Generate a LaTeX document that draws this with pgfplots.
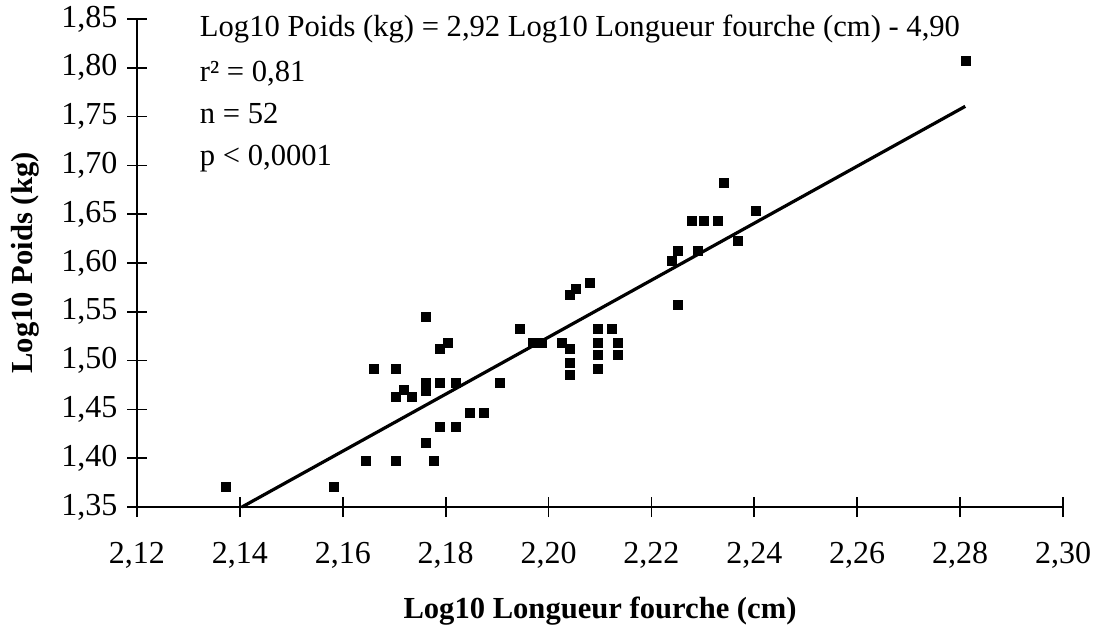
\documentclass[border=0pt]{standalone}
\usepackage{fontspec}
\setmainfont{Liberation Serif}
\usepackage{pgfplots}
\pgfplotsset{compat=1.18}
\usepackage{pgfplotstable}

% log10 fork length (cm) vs log10 weight (kg)
\pgfplotstableread{
x y
2.1373 1.3708
2.1583 1.3708
2.1645 1.3974
2.1703 1.3974
2.1661 1.4921
2.1703 1.4921
2.1719 1.4699
2.1703 1.4630
2.1734 1.4630
2.1762 1.5450
2.1762 1.4774
2.1762 1.4692
2.1788 1.4774
2.1820 1.4774
2.1906 1.4774
2.1847 1.4466
2.1874 1.4466
2.1789 1.4323
2.1819 1.4323
2.1762 1.4159
2.1776 1.3974
2.1788 1.5126
2.1804 1.5187
2.1944 1.5330
2.1970 1.5187
2.1986 1.5187
2.2026 1.5187
2.2042 1.5126
2.2042 1.4978
2.2042 1.4856
2.2042 1.5680
2.2053 1.5740
2.2080 1.5798
2.2096 1.5330
2.2096 1.5187
2.2096 1.5187
2.2096 1.5057
2.2096 1.4917
2.2123 1.5330
2.2135 1.5187
2.2135 1.5057
2.2251 1.5577
2.2239 1.6023
2.2251 1.6126
2.2289 1.6126
2.2367 1.6229
2.2279 1.6433
2.2301 1.6433
2.2329 1.6433
2.2403 1.6536
2.2341 1.6823
2.2810 1.8070
}\fishdata

\newcommand{\chartfont}{\fontsize{30.6}{36}\selectfont}
\newcommand{\tickfont}{\fontsize{32}{38}\selectfont}

\begin{document}
\begin{tikzpicture}
\path[use as bounding box] (0,0) rectangle (1096pt,633pt);
\begin{axis}[
  at={(137pt,126pt)}, anchor=south west,
  width=926pt, height=488pt, scale only axis,
  xmin=2.12, xmax=2.30, ymin=1.35, ymax=1.85,
  xtick={2.12,2.14,2.16,2.18,2.20,2.22,2.24,2.26,2.28,2.30},
  ytick={1.35,1.40,1.45,1.50,1.55,1.60,1.65,1.70,1.75,1.80,1.85},
  axis lines=left,
  axis line style={-, line width=1.7pt, black},
  tick align=center,
  major tick length=20pt,
  tick style={line width=1.7pt, black},
  clip=false,
  /pgf/number format/.cd, fixed, fixed zerofill, precision=2, use comma, assume math mode=true,
  /pgfplots/.cd,
  ticklabel style={font=\tickfont},
  xticklabel style={yshift=-22pt},
  yticklabel style={xshift=-6pt},
  xlabel={\textbf{Log10 Longueur fourche (cm)}},
  ylabel={\textbf{Log10 Poids (kg)}},
  label style={font=\chartfont},
  xlabel style={at={(axis description cs:0.5,-0.213)}, anchor=center},
  ylabel style={at={(axis description cs:-0.121,0.5)}, anchor=center},
]
\addplot[only marks, mark=square*, mark size=4.5pt, mark options={fill=black, draw=black}]
  table[x=x, y=y] {\fishdata};
\addplot[black, line width=3.2pt] coordinates {(2.1404,1.3500) (2.2810,1.7605)};
\node[anchor=base west, font=\chartfont, inner sep=0pt] at (axis cs:2.1322,1.8316) {Log10 Poids (kg) = 2,92 Log10 Longueur fourche (cm) - 4,90};
\node[anchor=base west, font=\chartfont, inner sep=0pt] at (axis cs:2.1322,1.7855) {r² = 0,81};
\node[anchor=base west, font=\chartfont, inner sep=0pt] at (axis cs:2.1322,1.7434) {n = 52};
\node[anchor=base west, font=\chartfont, inner sep=0pt] at (axis cs:2.1322,1.6994) {p < 0,0001};
\end{axis}
\end{tikzpicture}
\end{document}
